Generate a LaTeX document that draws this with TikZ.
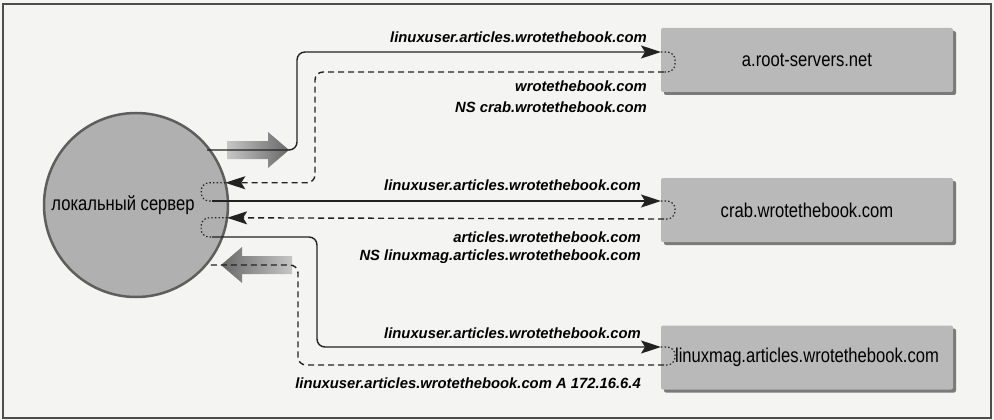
\documentclass[tikz,border=0pt]{standalone}
\usepackage{fontspec}
\setmainfont{Liberation Sans}
\newfontfamily\hostfont[FakeStretch=0.83]{Liberation Sans}
\usetikzlibrary{arrows.meta, shapes.geometric, shadows}
\definecolor{page-bg}{HTML}{F4F4F2}
\definecolor{frame-line}{HTML}{4D4D4D}
\definecolor{server-fill}{HTML}{B0B0B0}
\definecolor{server-border}{HTML}{5E5E5E}
\definecolor{host-fill}{HTML}{B9B9B9}
\definecolor{host-shadow}{HTML}{7A7A7A}
\definecolor{wire}{HTML}{222222}
\definecolor{arrow-light}{HTML}{C6C6C6}
\definecolor{arrow-dark}{HTML}{686868}
\tikzset{
  dns-server/.style={
    draw=server-border, fill=server-fill, ellipse, line width=2.5pt,
    minimum width=184pt, minimum height=184pt, inner sep=0pt, outer sep=0pt
  },
  dns-host/.style={
    fill=host-fill, rounded corners=2pt, minimum width=292pt, minimum height=64pt,
    inner sep=0pt, outer sep=0pt, font=\hostfont\fontsize{20}{22}\selectfont,
    drop shadow={shadow xshift=3pt, shadow yshift=-3pt, fill=host-shadow, opacity=1}
  },
  dns-tip/.style={-{Stealth[length=20pt, width=13pt, inset=4pt]}},
  dns-query/.style={draw=wire, line width=1.4pt, rounded corners=8pt, dns-tip},
  dns-reply/.style={draw=wire, line width=1.4pt, rounded corners=8pt, dash pattern=on 6pt off 4pt},
  dns-loop/.style={draw=wire, line width=1.2pt, rounded corners=8pt, dash pattern=on 1.4pt off 2.2pt},
  dns-label/.style={anchor=east, inner sep=0pt, font=\bfseries\itshape\fontsize{14.8}{16}\selectfont},
  big-arrow/.style={draw=none}
}

\begin{document}
\begin{tikzpicture}[x=1pt, y=-1pt]
  \useasboundingbox (0,0) rectangle (994,420);
  \fill[page-bg] (0,0) rectangle (994,420);
  \draw[frame-line, line width=1.5pt] (3,4) rectangle (991,418);

  \node[dns-server, label={[xshift=-13pt, font=\hostfont\fontsize{20}{22}\selectfont]center:локальный сервер}]
    (local) at (136,205) {};
  \node[dns-host] (root) at (807,60)    {a.root-servers.net};
  \node[dns-host] (crab) at (807,210)   {crab.wrotethebook.com};
  \node[dns-host] (mag)  at (807,357.5) {linuxmag.articles.wrotethebook.com};

  \coordinate (q-root) at (207,150);
  \coordinate (q-crab) at (212,201);
  \coordinate (q-mag)  at (212,237);
  \coordinate (r-mag)  at (207,265);

  % wide shaded arrows: first query out, last answer in
  \shade[big-arrow, left color=arrow-light, right color=arrow-dark]
    (227,141) -- (268,141) -- (268,132) -- (289,150) -- (268,168) -- (268,159) -- (227,159) -- cycle;
  \shade[big-arrow, left color=arrow-dark, right color=arrow-light]
    (221,265) -- (242,247) -- (242,256) -- (292,256) -- (292,274) -- (242,274) -- (242,283) -- cycle;

  % root server
  \draw[dns-query] (q-root) -- ++(90,0) |- ([yshift=8pt]root.west);
  \draw[dns-loop] ([yshift=8pt]root.west) -- ++(14,0) |- ([xshift=3pt, yshift=-12pt]root.west);
  \draw[dns-reply, dns-tip] ([xshift=3pt, yshift=-12pt]root.west) -- ++(-349,0) |- (local.14.32);
  \draw[dns-loop] (local.14.32) -- ++(-24,0) |- (q-crab);

  % crab
  \draw[dns-query] (q-crab) -- ([yshift=9pt]crab.west);
  \draw[dns-loop] ([yshift=9pt]crab.west) -- ++(14,0) |- ([xshift=3pt, yshift=-9pt]crab.west);
  \draw[dns-reply, dns-tip] ([xshift=3pt, yshift=-9pt]crab.west) -- (local.-8.66);
  \draw[dns-loop] (local.-8.66) -- ++(-26,0) |- (q-mag);

  % linuxmag
  \draw[dns-query] (q-mag) -- ++(105,0) |- ([yshift=10.5pt]mag.west);
  \draw[dns-loop] ([yshift=10.5pt]mag.west) -- ++(14,0) |- ([xshift=3pt, yshift=-7.5pt]mag.west);
  \draw[dns-reply] ([xshift=3pt, yshift=-7.5pt]mag.west) -- ++(-366,0) |- (r-mag);

  \node[dns-label] (ask-root) at (647,37)  {linuxuser.articles.wrotethebook.com};
  \node[dns-label] (ans-root) at (647,86)  {wrotethebook.com};
  \node[dns-label] (ns-crab)  at (647,107) {NS crab.wrotethebook.com};
  \node[dns-label] (ask-crab) at (641,185) {linuxuser.articles.wrotethebook.com};
  \node[dns-label] (ans-crab) at (641,237) {articles.wrotethebook.com};
  \node[dns-label] (ns-mag)   at (641,257) {NS linuxmag.articles.wrotethebook.com};
  \node[dns-label] (ask-mag)  at (641,333) {linuxuser.articles.wrotethebook.com};
  \node[dns-label] (ans-mag)  at (641,383) {linuxuser.articles.wrotethebook.com A 172.16.6.4};
\end{tikzpicture}
\end{document}
